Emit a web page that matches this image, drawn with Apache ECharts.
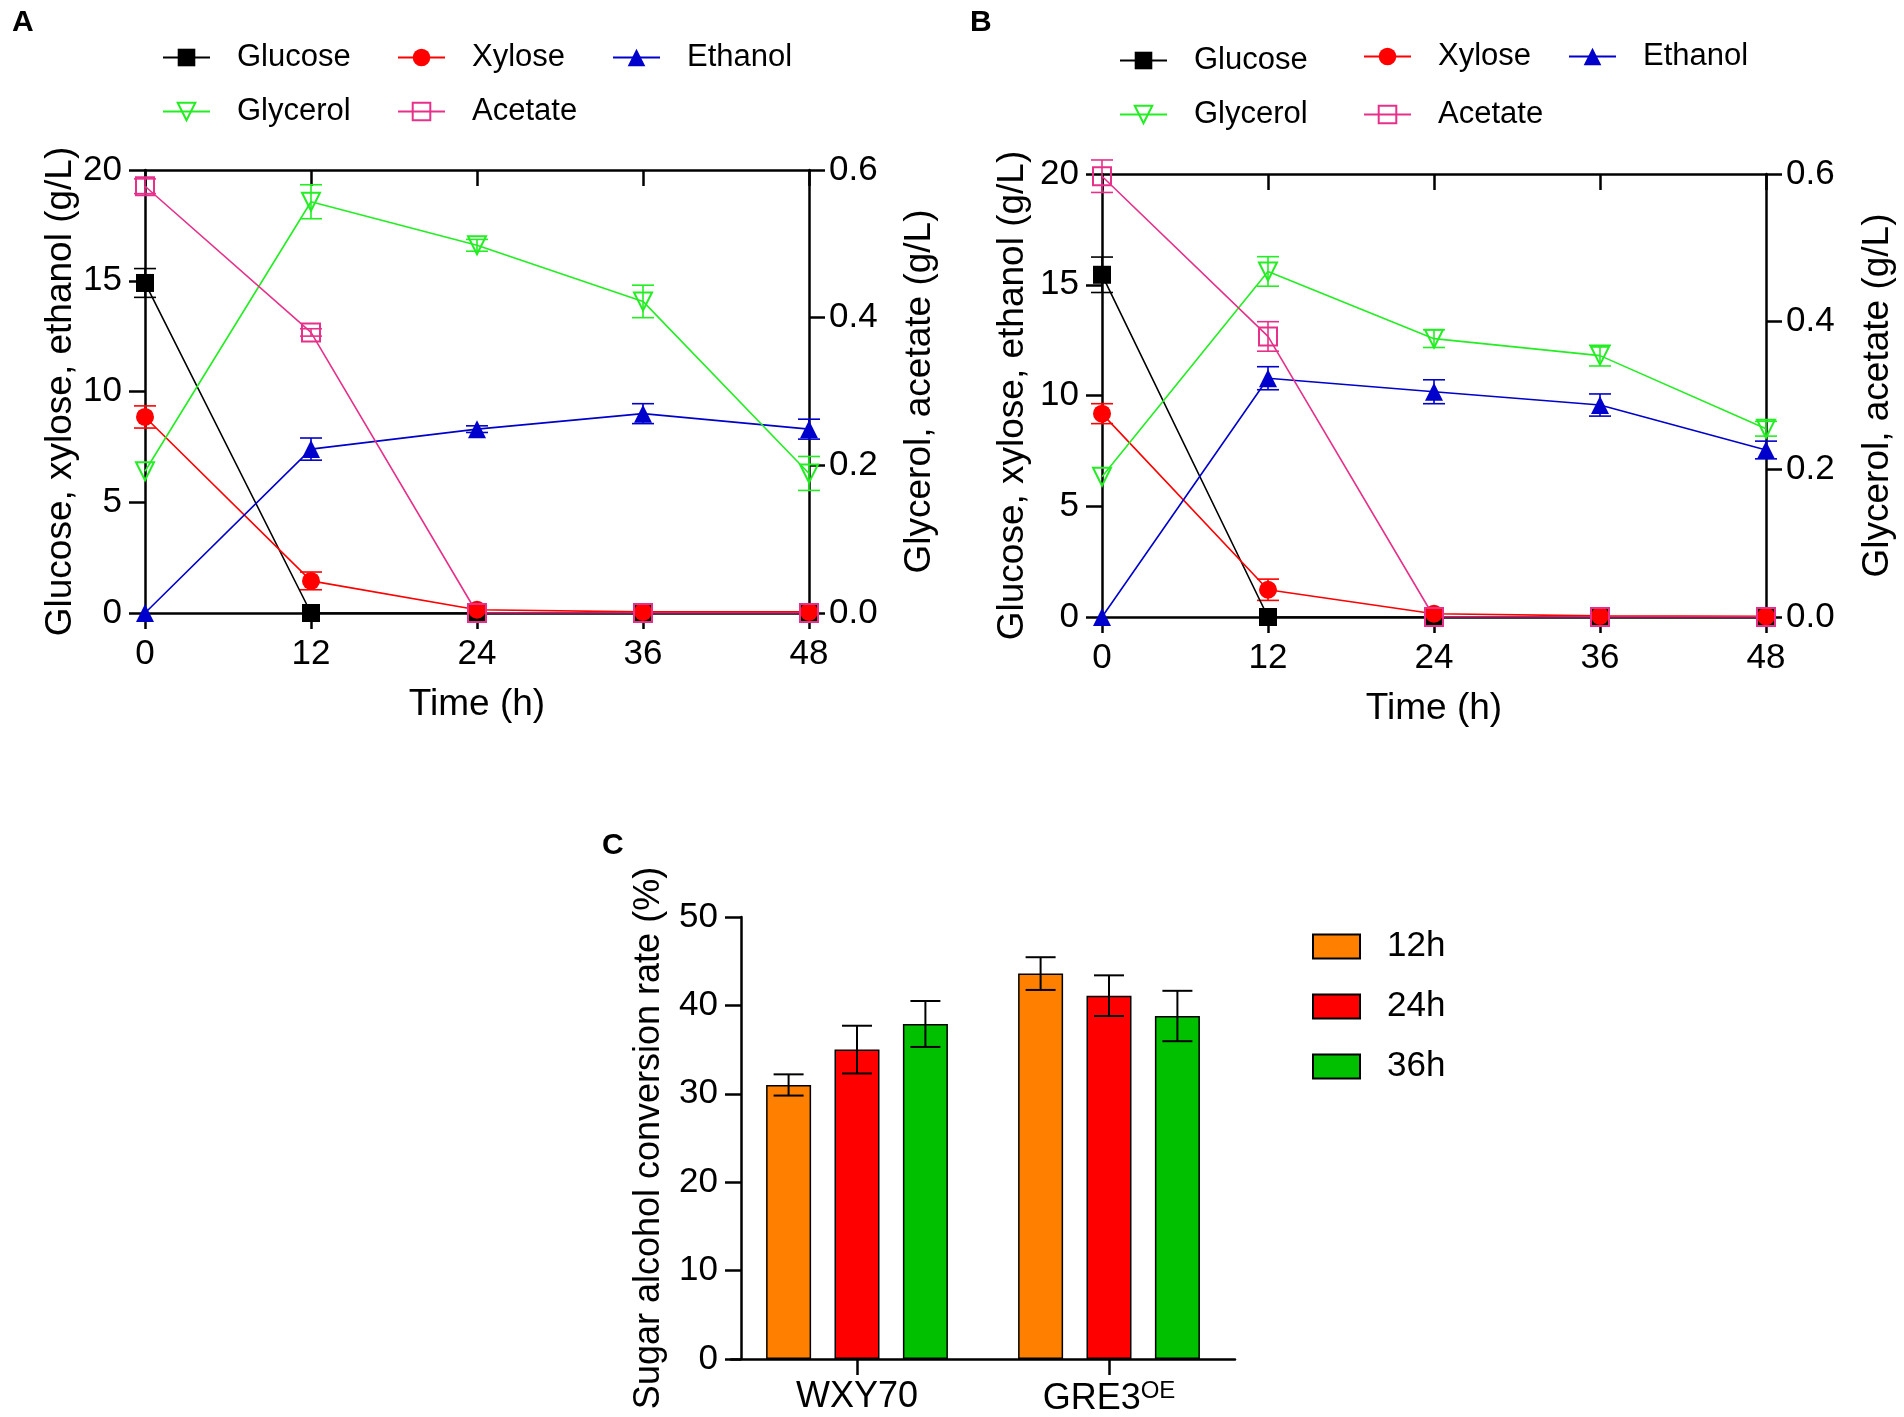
<!DOCTYPE html>
<html>
<head>
<meta charset="utf-8">
<script src="https://cdn.jsdelivr.net/npm/echarts@6/dist/echarts.min.js"></script>
<style>
html,body{margin:0;padding:0;background:#fff;}
#chart{width:1904px;height:1417px;}
</style>
</head>
<body>
<div id="chart"></div>
<script>
// ---------- data ----------
const times = [0, 12, 24, 36, 48];
const seriesNames = ['Glucose', 'Xylose', 'Ethanol', 'Glycerol', 'Acetate'];

// Panel A
const glucoseA = [14.9, 0, 0, 0, 0];
const glucoseAErr = [0.65, 0, 0, 0, 0];
const xyloseA = [8.85, 1.45, 0.15, 0.05, 0.05];
const xyloseAErr = [0.5, 0.4, 0, 0, 0];
const ethanolA = [0, 7.4, 8.3, 9.0, 8.3];
const ethanolAErr = [0, 0.5, 0.15, 0.45, 0.45];
const glycerolA = [0.192, 0.557, 0.498, 0.422, 0.189];
const glycerolAErr = [0, 0.023, 0.008, 0.022, 0.023];
const acetateA = [0.578, 0.38, 0, 0, 0];
const acetateAErr = [0.01, 0.005, 0, 0, 0];

// Panel B
const glucoseB = [15.45, 0, 0, 0, 0];
const glucoseBErr = [0.8, 0, 0, 0, 0];
const xyloseB = [9.18, 1.23, 0.15, 0.05, 0.03];
const xyloseBErr = [0.45, 0.48, 0, 0, 0];
const ethanolB = [0, 10.78, 10.17, 9.57, 7.54];
const ethanolBErr = [0, 0.52, 0.54, 0.5, 0.4];
const glycerolB = [0.19, 0.468, 0.377, 0.354, 0.255];
const glycerolBErr = [0, 0.02, 0.012, 0.014, 0.01];
const acetateB = [0.597, 0.38, 0, 0, 0];
const acetateBErr = [0.022, 0.02, 0, 0, 0];

// Panel C
const strainsC = ['WXY70', 'GRE3OE'];
const barNamesC = ['12h', '24h', '36h'];
const rate12h = [31.0, 43.6];
const rate24h = [35.0, 41.1];
const rate36h = [37.9, 38.8];
const rate12hErr = [1.2, 1.85];
const rate24hErr = [2.7, 2.3];
const rate36hErr = [2.6, 2.85];

// ---------- styles ----------
const FONT = "'Liberation Sans', Arial, sans-serif";
const colors = {
  Glucose: '#000000', Xylose: '#FF0000', Ethanol: '#0000CC',
  Glycerol: '#22EE22', Acetate: '#E6308A'
};
const barColors = ['#FF8000', '#FF0000', '#00C000'];
const AXW = 2.5, LW = 1.6, TICK = 16, SYM = 18;
const TICK_FS = 35, NAME_FS = 37, LEG_FS = 31;

const symbolDefs = {
  Glucose: {symbol: 'rect', filled: true},
  Xylose: {symbol: 'circle', filled: true},
  Ethanol: {symbol: 'triangle', filled: true},
  Glycerol: {symbol: 'triangle', filled: false, rotate: 180},
  Acetate: {symbol: 'rect', filled: false}
};

function lineSeries(name, vals, xIdx, yIdx) {
  const d = symbolDefs[name];
  const c = colors[name];
  return {
    name: name, type: 'line', xAxisIndex: xIdx, yAxisIndex: yIdx,
    data: times.map((t, i) => [t, vals[i]]),
    symbol: d.symbol, symbolSize: SYM, symbolRotate: d.rotate || 0,
    showAllSymbol: true, z: 3, silent: true,
    lineStyle: {color: c, width: LW},
    itemStyle: d.filled ? {color: c, borderWidth: 0} :
      {color: 'rgba(255,255,255,0)', borderColor: c, borderWidth: 2},
    emphasis: {disabled: true}
  };
}

function errSeries(vals, errs, color, xIdx, yIdx, capW, lw, offsetFn) {
  const data = [];
  vals.forEach((v, i) => { if (errs[i] > 0) data.push([i, v - errs[i], v + errs[i]]); });
  return {
    type: 'custom', xAxisIndex: xIdx, yAxisIndex: yIdx, z: 2, silent: true,
    data: data, encode: {x: 0, y: [1, 2]},
    renderItem: function (params, api) {
      const idx = api.value(0);
      const xv = offsetFn ? idx : times[idx];
      const p1 = api.coord([xv, api.value(1)]);
      const p2 = api.coord([xv, api.value(2)]);
      const dx = offsetFn ? offsetFn() : 0;
      const x = p1[0] + dx, h = capW / 2;
      const st = {stroke: color, lineWidth: lw};
      return {type: 'group', children: [
        {type: 'line', shape: {x1: x, y1: p1[1], x2: x, y2: p2[1]}, style: st},
        {type: 'line', shape: {x1: x - h, y1: p1[1], x2: x + h, y2: p1[1]}, style: st},
        {type: 'line', shape: {x1: x - h, y1: p2[1], x2: x + h, y2: p2[1]}, style: st}
      ]};
    }
  };
}

const axisLineStyle = {show: true, onZero: false, lineStyle: {color: '#000', width: AXW}};
const tickLabel = {color: '#000', fontSize: TICK_FS, fontFamily: FONT};
const nameStyle = {color: '#000', fontSize: NAME_FS, fontFamily: FONT};

function timeAxes(gridIdx) {
  return [
    {type: 'value', gridIndex: gridIdx, position: 'bottom', min: 0, max: 48, interval: 12,
     name: 'Time (h)', nameLocation: 'middle', nameGap: 73, nameTextStyle: nameStyle,
     axisLine: axisLineStyle, axisTick: {show: true, length: TICK, lineStyle: {width: AXW, color: '#000'}},
     axisLabel: Object.assign({margin: 24}, tickLabel), splitLine: {show: false}},
    {type: 'value', gridIndex: gridIdx, position: 'top', min: 0, max: 48, interval: 12,
     axisLine: axisLineStyle, axisTick: {show: true, inside: true, length: TICK, lineStyle: {width: AXW, color: '#000'}},
     axisLabel: {show: false}, splitLine: {show: false}}
  ];
}
function concAxes(gridIdx, gapL, gapR) {
  return [
    {type: 'value', gridIndex: gridIdx, position: 'left', min: 0, max: 20, interval: 5,
     name: 'Glucose, xylose, ethanol (g/L)', nameLocation: 'middle', nameGap: gapL, nameTextStyle: nameStyle,
     axisLine: axisLineStyle, axisTick: {show: true, length: TICK, lineStyle: {width: AXW, color: '#000'}},
     axisLabel: Object.assign({margin: 23}, tickLabel), splitLine: {show: false}},
    {type: 'value', gridIndex: gridIdx, position: 'right', min: 0, max: 0.6, interval: 0.2,
     name: 'Glycerol, acetate (g/L)', nameLocation: 'middle', nameGap: gapR, nameTextStyle: nameStyle,
     axisLine: axisLineStyle, axisTick: {show: true, length: TICK, lineStyle: {width: AXW, color: '#000'}},
     axisLabel: Object.assign({margin: 20, formatter: v => v.toFixed(1)}, tickLabel), splitLine: {show: false}}
  ];
}

function legendItem(name, left, top) {
  return {
    data: [name], left: left, top: top, padding: 0, orient: 'horizontal',
    itemWidth: 47, itemHeight: 22, selectedMode: false,
    textStyle: {color: '#000', fontSize: LEG_FS, fontFamily: FONT, padding: [0, 0, 0, 22]}
  };
}

// bar layout for C
const BAR_W = 45, BAR_GAP = 0.52;
function barOffset(k) { return () => (k - 1) * BAR_W * (1 + BAR_GAP); }

const chart = echarts.init(document.getElementById('chart'), null, {renderer: 'canvas'});

const option = {
  animation: false,
  backgroundColor: '#fff',
  textStyle: {fontFamily: FONT},
  grid: [
    {left: 145, top: 170, width: 664, height: 443},
    {left: 1102, top: 174, width: 664, height: 443},
    {left: 731, top: 917, width: 504, height: 443}
  ],
  xAxis: [].concat(timeAxes(0), timeAxes(1), [{
    type: 'category', gridIndex: 2, data: strainsC, position: 'bottom',
    axisLine: {show: true, lineStyle: {color: '#000', width: AXW}},
    axisTick: {show: true, alignWithLabel: true, interval: 0, length: TICK, lineStyle: {width: AXW, color: '#000'}},
    axisLabel: {color: '#000', fontSize: 36, fontFamily: FONT, margin: 20, interval: 0, hideOverlap: false,
      formatter: v => v === 'GRE3OE' ? '{a|GRE3}{b|OE}' : '{a|' + v + '}',
      rich: {a: {fontSize: 36, fontFamily: FONT, color: '#000'},
             b: {fontSize: 24, fontFamily: FONT, color: '#000', verticalAlign: 'top', padding: [0, 0, 16, 0]}}}
  }]),
  yAxis: [].concat(concAxes(0, 66, 92), concAxes(1, 71, 93), [{
    type: 'value', gridIndex: 2, min: 0, max: 50, interval: 10, offset: -10,
    name: 'Sugar alcohol conversion rate (%)', nameLocation: 'middle', nameGap: 74,
    nameTextStyle: {color: '#000', fontSize: 36, fontFamily: FONT},
    axisLine: {show: true, lineStyle: {color: '#000', width: AXW}},
    axisTick: {show: true, length: TICK, lineStyle: {width: AXW, color: '#000'}},
    axisLabel: Object.assign({margin: 23}, tickLabel), splitLine: {show: false}
  }]),
  legend: [
    legendItem('Glucose', 162, 42), legendItem('Xylose', 397, 42), legendItem('Ethanol', 612, 42),
    legendItem('Glycerol', 162, 96), legendItem('Acetate', 397, 96),
    legendItem('Glucose', 1119, 45), legendItem('Xylose', 1363, 41), legendItem('Ethanol', 1568, 41),
    legendItem('Glycerol', 1119, 99), legendItem('Acetate', 1363, 99),
    {data: barNamesC, left: 1312, top: 929, padding: 0, orient: 'vertical', icon: 'rect',
     itemWidth: 47, itemHeight: 24, itemGap: 25, selectedMode: false,
     textStyle: {color: '#000', fontSize: 35, fontFamily: FONT, padding: [0, 0, 0, 22]}}
  ],
  graphic: [
    {type: 'text', left: 12, top: 8, style: {text: 'A', font: 'bold 30px ' + FONT, fill: '#000'}},
    {type: 'text', left: 970, top: 8, style: {text: 'B', font: 'bold 30px ' + FONT, fill: '#000'}},
    {type: 'text', left: 602, top: 831, style: {text: 'C', font: 'bold 30px ' + FONT, fill: '#000'}}
  ],
  series: [
    // Panel A error bars
    errSeries(glucoseA, glucoseAErr, colors.Glucose, 0, 0, 22, LW),
    errSeries(xyloseA, xyloseAErr, colors.Xylose, 0, 0, 22, LW),
    errSeries(ethanolA, ethanolAErr, colors.Ethanol, 0, 0, 22, LW),
    errSeries(glycerolA, glycerolAErr, colors.Glycerol, 0, 1, 22, LW),
    errSeries(acetateA, acetateAErr, colors.Acetate, 0, 1, 22, LW),
    // Panel A lines
    lineSeries('Glucose', glucoseA, 0, 0),
    lineSeries('Xylose', xyloseA, 0, 0),
    lineSeries('Ethanol', ethanolA, 0, 0),
    lineSeries('Glycerol', glycerolA, 0, 1),
    lineSeries('Acetate', acetateA, 0, 1),
    // Panel B error bars
    errSeries(glucoseB, glucoseBErr, colors.Glucose, 2, 2, 22, LW),
    errSeries(xyloseB, xyloseBErr, colors.Xylose, 2, 2, 22, LW),
    errSeries(ethanolB, ethanolBErr, colors.Ethanol, 2, 2, 22, LW),
    errSeries(glycerolB, glycerolBErr, colors.Glycerol, 2, 3, 22, LW),
    errSeries(acetateB, acetateBErr, colors.Acetate, 2, 3, 22, LW),
    // Panel B lines
    lineSeries('Glucose', glucoseB, 2, 2),
    lineSeries('Xylose', xyloseB, 2, 2),
    lineSeries('Ethanol', ethanolB, 2, 2),
    lineSeries('Glycerol', glycerolB, 2, 3),
    lineSeries('Acetate', acetateB, 2, 3),
    // Panel C bars
    {name: '12h', type: 'bar', xAxisIndex: 4, yAxisIndex: 4, data: rate12h, barWidth: BAR_W, barGap: (BAR_GAP * 100) + '%',
     itemStyle: {color: barColors[0], borderColor: '#000', borderWidth: 1.5}, silent: true},
    {name: '24h', type: 'bar', xAxisIndex: 4, yAxisIndex: 4, data: rate24h, barWidth: BAR_W, barGap: (BAR_GAP * 100) + '%',
     itemStyle: {color: barColors[1], borderColor: '#000', borderWidth: 1.5}, silent: true},
    {name: '36h', type: 'bar', xAxisIndex: 4, yAxisIndex: 4, data: rate36h, barWidth: BAR_W, barGap: (BAR_GAP * 100) + '%',
     itemStyle: {color: barColors[2], borderColor: '#000', borderWidth: 1.5}, silent: true},
    Object.assign(errSeries(rate12h, rate12hErr, '#000', 4, 4, 30, 2, barOffset(0)), {z: 5}),
    Object.assign(errSeries(rate24h, rate24hErr, '#000', 4, 4, 30, 2, barOffset(1)), {z: 5}),
    Object.assign(errSeries(rate36h, rate36hErr, '#000', 4, 4, 30, 2, barOffset(2)), {z: 5})
  ]
};
chart.setOption(option);
</script>
</body>
</html>
